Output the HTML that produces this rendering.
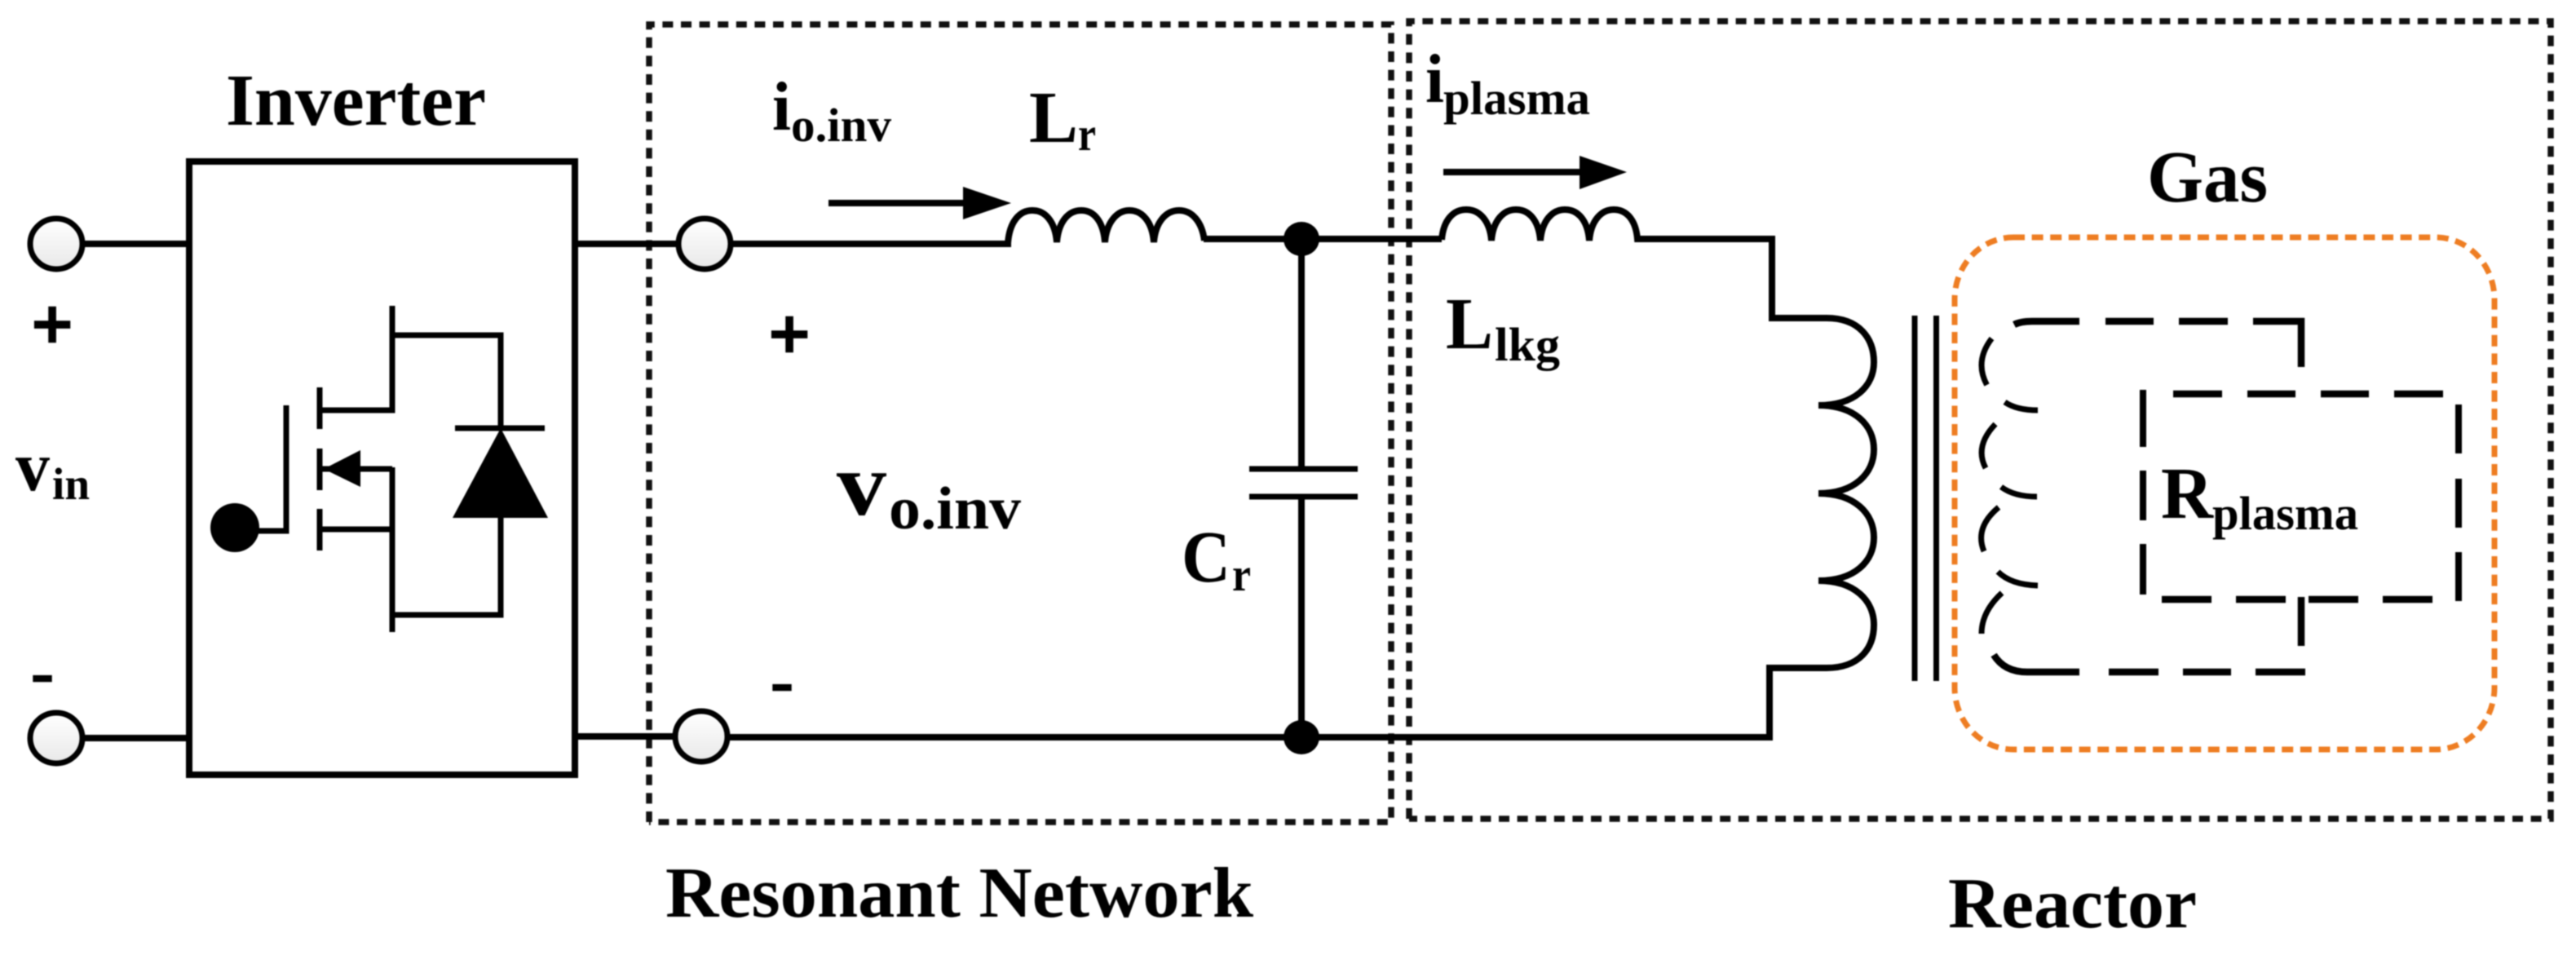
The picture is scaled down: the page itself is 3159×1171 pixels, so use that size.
<!DOCTYPE html>
<html><head><meta charset="utf-8"><style>
html,body{margin:0;padding:0;background:#fff;width:3159px;height:1171px;overflow:hidden}
svg{display:block;filter:blur(0.7px)}
text{font-family:"Liberation Serif",serif;font-weight:bold;fill:#000}
</style></head><body>
<svg width="3159" height="1171" viewBox="0 0 3159 1171" xmlns="http://www.w3.org/2000/svg">
<defs><linearGradient id="t" x1="0" y1="0" x2="0" y2="1"><stop offset="0" stop-color="#fff"/><stop offset="1" stop-color="#e8e8e8"/></linearGradient></defs>
<rect width="3159" height="1171" fill="#fff"/>

<!-- dotted boxes -->
<g fill="none" stroke="#111" stroke-width="7.5" stroke-dasharray="13 9.6">
<path d="M796 1008V30H1706V1008H796"/>
<path d="M1728 1004V26H3128V1004H1728"/>
</g>
<rect x="2397" y="291" width="662" height="628" rx="72" ry="76" fill="none" stroke="#ee7d22" stroke-width="7" stroke-dasharray="14 8.6"/>

<!-- wires -->
<g fill="none" stroke="#000" stroke-width="8">
<path d="M100 299H232M100 905H232M706 299H830M706 903H830"/>
<path d="M898 299H1240"/>
<path d="M892 904H2170"/>
<path d="M1476 293H1768"/>
<path d="M1596 293V575M1596 609V904"/>
<path d="M1532 575H1665M1532 609H1665" stroke-width="7"/>
<rect x="232" y="198" width="473" height="752"/>
<!-- inductor Lr -->
<path d="M1236 298C1238 272 1250 258 1266 258C1282 258 1294 272 1296 297C1298 272 1310 258 1326 258C1342 258 1353 272 1355 297C1357 272 1370 258 1385 258C1401 258 1413 272 1415 297C1417 272 1430 258 1446 258C1462 258 1474 272 1477 295"/>
<!-- inductor Llkg -->
<path d="M1768 294C1770 270 1782 257 1798 257C1814 257 1827 270 1829 295C1831 270 1844 257 1859 257C1875 257 1887 270 1889 295C1891 270 1904 257 1919 257C1935 257 1947 270 1949 295C1951 270 1964 257 1979 257C1995 257 2006 270 2008 293H2173V390H2240C2280 390 2298 415 2298 444C2298 473 2275 497 2230 497C2275 497 2298 522 2298 551C2298 580 2275 605 2230 605C2275 605 2298 630 2298 659C2298 688 2275 712 2230 712C2275 712 2298 737 2298 766C2298 795 2280 819 2240 819H2170V908"/>
<!-- core -->
<path d="M2348 387V835M2374.5 387V835" stroke-width="7"/>
<!-- arrows -->
<path d="M1016 249H1190M1770 211H1945"/>
<!-- secondary dashed -->
<g stroke-width="8.5">
<path d="M2470 398Q2478 394 2492 394H2550M2582 394H2641M2672 394H2732M2763 394H2822V450"/>
<path d="M2822 732V792"/>
<path d="M2445 803Q2458 824 2486 824H2550M2586 824H2647M2677 824H2736M2766 824H2827"/>
<path d="M2665 483H2725M2756 483H2815M2846 483H2905M2936 483H2996"/>
<path d="M2651 735H2712M2742 735H2803M2831 735H2892M2922 735H2983"/>
<path d="M2628 478V548M2628 577V638M2628 667V729" stroke-width="8"/>
<path d="M3015 496V556M3015 587V647M3015 677V737" stroke-width="8"/>
<path d="M2442.5 415Q2421 443 2436.5 472M2458.5 493Q2473 503 2499 503M2447 520Q2421 547 2435 574M2454 597Q2470 609 2498 609M2451 622Q2421 647 2433 676M2450 701Q2466 717 2499 718M2455 727Q2430 750 2430 777" stroke-width="7"/>
</g>
<!-- MOSFET -->
<g stroke-width="7">
<path d="M481 375V503H392M481 411H614V525M558 525H668M614 635V754H481M481 573V775M392 475V526M392 550V601M392 624V675M392 575H481M392 649H481M351 497V651H300"/>
</g>
</g>
<g fill="#000">
<path d="M614 525L555 635H672Z"/>
<path d="M397 575L442 552V597Z"/>
<circle cx="288" cy="647" r="30"/>
<path d="M1181 229L1240 249L1181 269Z"/>
<path d="M1937 191L1995 211L1937 232Z"/>
<ellipse cx="1596" cy="293" rx="22" ry="21"/>
<ellipse cx="1596" cy="904" rx="22" ry="21"/>
</g>
<!-- terminals -->
<g fill="url(#t)" stroke="#000" stroke-width="7">
<ellipse cx="69" cy="299" rx="32" ry="31"/>
<ellipse cx="69" cy="905" rx="32" ry="31"/>
<ellipse cx="864" cy="299" rx="32" ry="31"/>
<ellipse cx="860" cy="903" rx="32" ry="31"/>
</g>

<!-- labels -->
<text x="277" y="153" font-size="90" textLength="319" lengthAdjust="spacingAndGlyphs">Inverter</text>
<text x="816" y="1124" font-size="88" textLength="721" lengthAdjust="spacingAndGlyphs">Resonant Network</text>
<text x="2389" y="1137" font-size="88" textLength="305" lengthAdjust="spacingAndGlyphs">Reactor</text>
<text x="2633" y="247" font-size="90" textLength="148" lengthAdjust="spacingAndGlyphs">Gas</text>

<text x="19" y="601" font-size="87" textLength="42" lengthAdjust="spacingAndGlyphs">v</text>
<text x="64" y="612" font-size="55" textLength="46" lengthAdjust="spacingAndGlyphs">in</text>
<text x="39" y="427" font-size="88" stroke="#000" stroke-width="3.5">+</text>
<text x="38" y="851" font-size="80" textLength="28" lengthAdjust="spacingAndGlyphs" stroke="#000" stroke-width="1.5">-</text>
<text x="943" y="439" font-size="88" stroke="#000" stroke-width="3.5">+</text>
<text x="945" y="862" font-size="80" textLength="28" lengthAdjust="spacingAndGlyphs" stroke="#000" stroke-width="1.5">-</text>

<text x="947" y="159" font-size="85" textLength="23" lengthAdjust="spacingAndGlyphs">i</text>
<text x="970" y="173" font-size="58" textLength="123" lengthAdjust="spacingAndGlyphs">o.inv</text>
<text x="1262" y="174" font-size="90" textLength="60" lengthAdjust="spacingAndGlyphs">L</text>
<text x="1322" y="184" font-size="58" textLength="22" lengthAdjust="spacingAndGlyphs">r</text>
<text x="1026" y="631" font-size="110" textLength="61" lengthAdjust="spacingAndGlyphs">v</text>
<text x="1090" y="648" font-size="74" textLength="162" lengthAdjust="spacingAndGlyphs">o.inv</text>
<text x="1449" y="713" font-size="90" textLength="60" lengthAdjust="spacingAndGlyphs">C</text>
<text x="1511" y="724" font-size="58" textLength="23" lengthAdjust="spacingAndGlyphs">r</text>

<text x="1748" y="125" font-size="85" textLength="23" lengthAdjust="spacingAndGlyphs">i</text>
<text x="1770" y="140" font-size="58" textLength="180" lengthAdjust="spacingAndGlyphs">plasma</text>
<text x="1773" y="427" font-size="90" textLength="58" lengthAdjust="spacingAndGlyphs">L</text>
<text x="1833" y="442" font-size="58" textLength="80" lengthAdjust="spacingAndGlyphs">lkg</text>
<text x="2650" y="635" font-size="90" textLength="64" lengthAdjust="spacingAndGlyphs">R</text>
<text x="2713" y="649" font-size="58" textLength="179" lengthAdjust="spacingAndGlyphs">plasma</text>
</svg>
</body></html>
